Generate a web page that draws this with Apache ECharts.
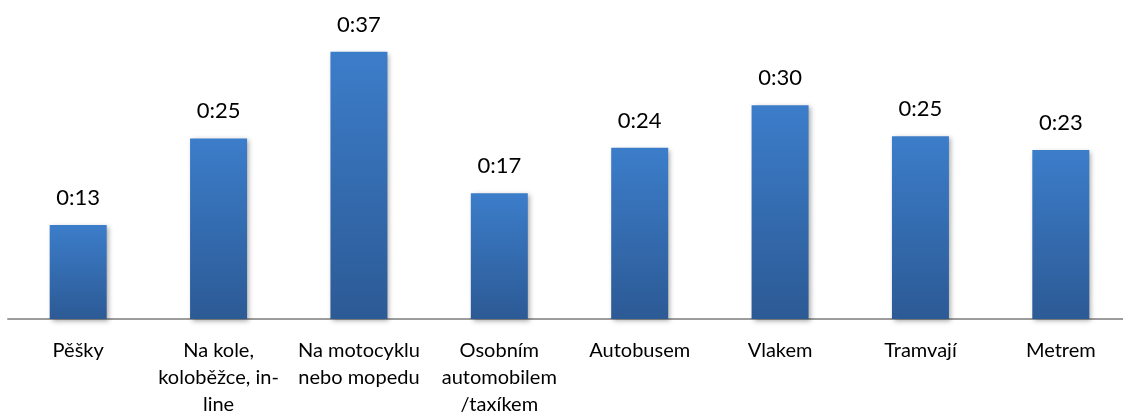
<!DOCTYPE html>
<html>
<head>
<meta charset="utf-8">
<script src="https://cdn.jsdelivr.net/npm/echarts@6/dist/echarts.min.js"></script>
<style>
  html, body { margin: 0; padding: 0; background: #ffffff; overflow: hidden; width: 1123px; height: 419px; }
  /* the plot area runs slightly past the right edge of the page */
  #chart { width: 1131px; height: 419px; }
</style>
</head>
<body>
<div id="chart"></div>
<script>
// Average travel time per mode of transport, in minutes
const categories = [
  'Pěšky',
  'Na kole,\nkoloběžce, in-\nline',
  'Na motocyklu\nnebo mopedu',
  'Osobním\nautomobilem\n/taxíkem',
  'Autobusem',
  'Vlakem',
  'Tramvají',
  'Metrem'
];
const minutes = [13.0, 25.0, 37.0, 17.4, 23.7, 29.6, 25.3, 23.4];

// h:mm display of a duration given in minutes
function asTime(m) {
  const total = Math.round(m);
  const h = Math.floor(total / 60);
  const mm = total % 60;
  return h + ':' + String(mm).padStart(2, '0');
}

const chart = echarts.init(document.getElementById('chart'), null, { renderer: 'canvas' });

chart.setOption({
  animation: false,
  backgroundColor: '#ffffff',
  textStyle: { fontFamily: 'Lato, "Noto Sans", sans-serif' },
  grid: { left: 8, right: 0, top: 30, bottom: 100, containLabel: false },
  xAxis: {
    type: 'category',
    data: categories,
    axisLine: { show: true, lineStyle: { color: '#9c9c9c', width: 2 } },
    axisTick: { show: false },
    axisLabel: {
      interval: 0,
      margin: 18,
      color: '#000000',
      fontSize: 20,
      lineHeight: 27,
      fontFamily: 'Lato, "Noto Sans", sans-serif'
    }
  },
  yAxis: {
    type: 'value',
    min: 0,
    max: 40,
    show: false,
    splitLine: { show: false }
  },
  series: [{
    type: 'bar',
    data: minutes,
    barWidth: 57,
    itemStyle: {
      color: new echarts.graphic.LinearGradient(0, 0, 0, 1, [
        { offset: 0, color: '#3c7dca' },
        { offset: 1, color: '#2c5a95' }
      ]),
      shadowColor: 'rgba(0,0,0,0.35)',
      shadowBlur: 5,
      shadowOffsetX: 2,
      shadowOffsetY: 2
    },
    label: {
      show: true,
      position: 'top',
      distance: 16,
      color: '#000000',
      fontSize: 22,
      fontFamily: 'Lato, "Noto Sans", sans-serif',
      formatter: p => asTime(p.value)
    }
  }]
});
</script>
</body>
</html>
